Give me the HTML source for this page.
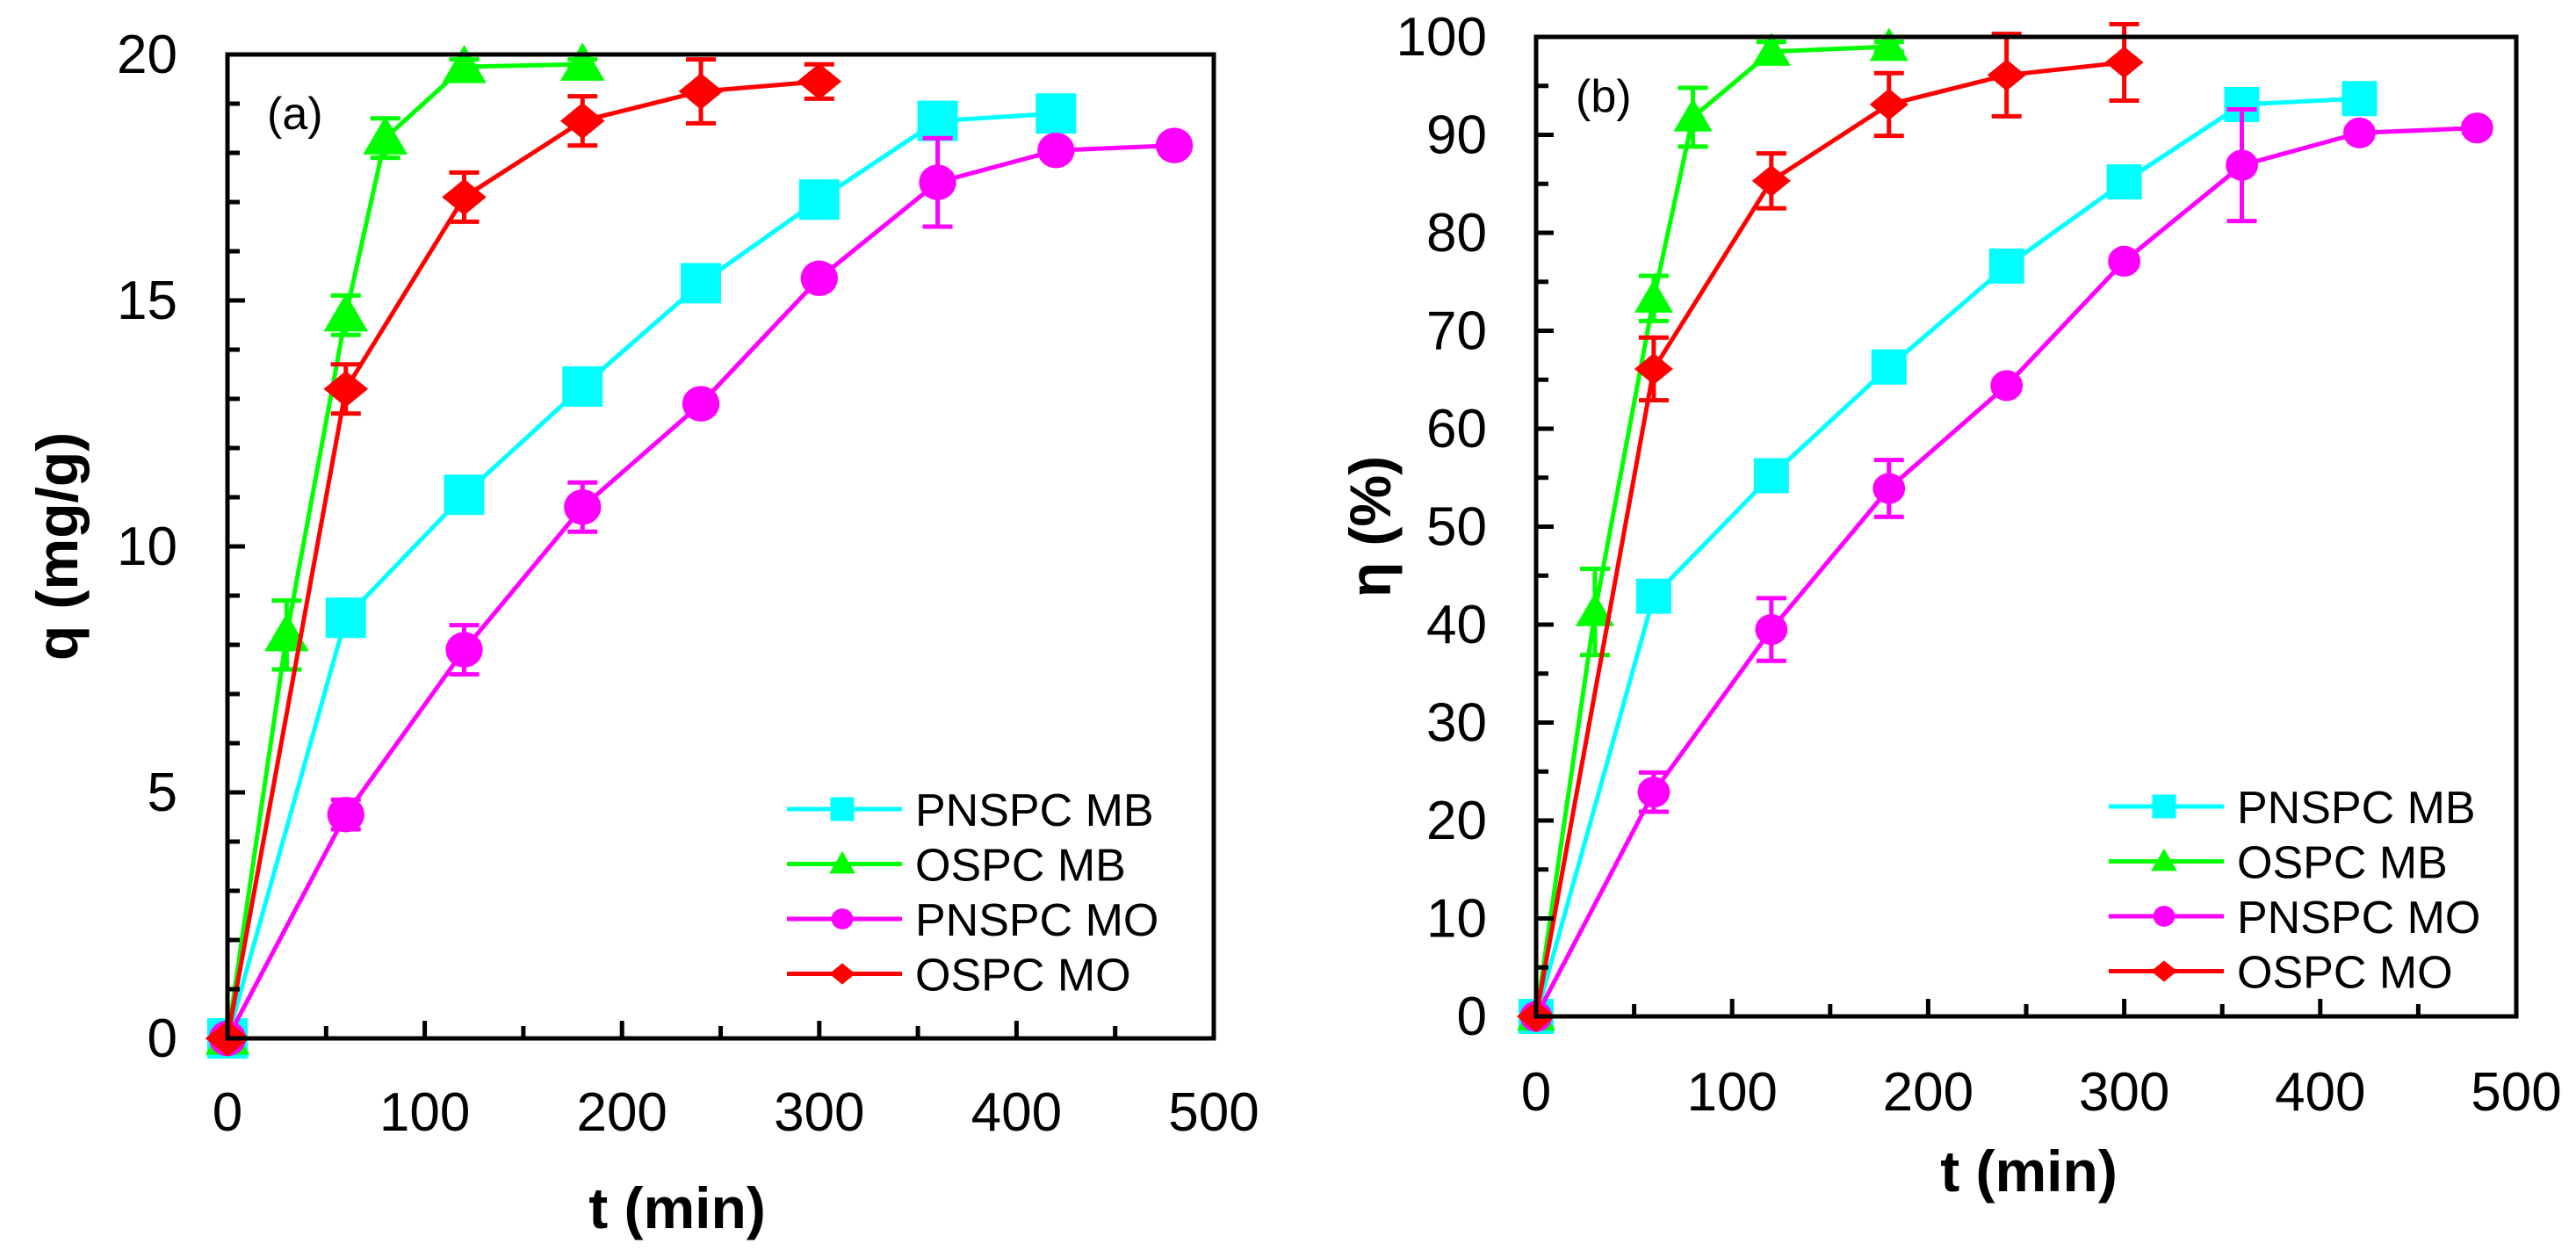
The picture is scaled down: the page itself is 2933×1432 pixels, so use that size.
<!DOCTYPE html>
<html><head><meta charset="utf-8"><style>
html,body{margin:0;padding:0;background:#fff;}
svg{display:block;font-family:"Liberation Sans",Arial,sans-serif;}
</style></head><body>
<svg id="chart" width="2933" height="1432" viewBox="0 0 2933 1432" xmlns="http://www.w3.org/2000/svg"></svg>
<script>
const seriesNames = ["PNSPC MB","OSPC MB","PNSPC MO","OSPC MO"];
const seriesColors = ["#00FFFF","#00FF00","#FF00FF","#FF0000"];
const seriesMarkers = ["square","triangle","circle","diamond"];
const xTicks = [0,100,200,300,400,500];

// Panel (a): q (mg/g)
const aTimes0 = [0,60,120,180,240,300,360,420];
const aVals0 = [0,8.55,11.05,13.25,15.35,17.05,18.65,18.8];
const aErr0 = [0,0,0,0,0,0,0,0];
const aTimes1 = [0,30,60,80,120,180];
const aVals1 = [0,8.2,14.7,18.3,19.75,19.8];
const aErr1 = [0,0.7,0.4,0.4,0.15,0.1];
const aTimes2 = [0,60,120,180,240,300,360,420,480];
const aVals2 = [0,4.55,7.9,10.8,12.9,15.45,17.4,18.05,18.15];
const aErr2 = [0,0.3,0.5,0.5,0.1,0.1,0.9,0.1,0.1];
const aTimes3 = [0,60,120,180,240,300];
const aVals3 = [0,13.2,17.1,18.65,19.25,19.45];
const aErr3 = [0,0.5,0.5,0.5,0.65,0.35];
const aYTicks = [0,5,10,15,20];

// Panel (b): eta (%)
const bTimes0 = [0,60,120,180,240,300,360,420];
const bVals0 = [0,42.9,55.2,66.3,76.6,85.2,93.1,93.7];
const bErr0 = [0,1,0,0,0,0,0,1.5];
const bTimes1 = [0,30,60,80,120,180];
const bVals1 = [0,41.3,73.3,91.8,98.5,99];
const bErr1 = [0,4.4,2.3,3,1,0.5];
const bTimes2 = [0,60,120,180,240,300,360,420,480];
const bVals2 = [0,22.9,39.5,53.9,64.4,77.1,86.9,90.2,90.7];
const bErr2 = [0,2,3.2,2.9,0.5,0.5,5.7,0.5,0.5];
const bTimes3 = [0,60,120,180,240,300];
const bVals3 = [0,66.1,85.3,93.1,96.1,97.4];
const bErr3 = [0,3.2,2.8,3.2,4.2,3.9];
const bYTicks = [0,10,20,30,40,50,60,70,80,90,100];

const NS="http://www.w3.org/2000/svg";
const svg=document.getElementById('chart');
function mk(tag,attrs,parent){const e=document.createElementNS(NS,tag);for(const k in attrs)e.setAttribute(k,attrs[k]);(parent||svg).appendChild(e);return e;}

function marker(g,type,cx,cy,s,color){
  let e;
  if(type==="square"){e=mk('rect',{x:cx-s/2,y:cy-s/2,width:s,height:s,fill:color},g);}
  else if(type==="triangle"){const h=s*0.9;e=mk('polygon',{points:`${cx},${cy-h*0.6} ${cx+s*0.55},${cy+h*0.45} ${cx-s*0.55},${cy+h*0.45}`,fill:color},g);}
  else if(type==="circle"){e=mk('ellipse',{cx:cx,cy:cy,rx:s*0.46,ry:s*0.44,fill:color},g);}
  else {e=mk('polygon',{points:`${cx},${cy-s*0.45} ${cx+s*0.55},${cy} ${cx},${cy+s*0.45} ${cx-s*0.55},${cy}`,fill:color},g);}
  return e;
}

function panel(cfg){
  const {left,right,top,bottom,ymax,ymin,yMinorStep,yTicks,times,vals,errs,label,ytitle,yLabelRight,xLabelBase,xTitleX,xTitleY,yTitleX,legX,legY,msize,name}=cfg;
  const xs=t=>left+(t-0)/(500-0)*(right-left);
  const ys=v=>bottom-(v-ymin)/(ymax-ymin)*(bottom-top);
  const g=mk('g',{});
  
  
  for(let s=0;s<4;s++){
    const sg=mk('g',{},g);
    
    
    const pts=times[s].map((t,i)=>xs(t)+','+ys(vals[s][i])).join(' ');
    const pl=mk('polyline',{points:pts,fill:'none',stroke:seriesColors[s],'stroke-width':5,'stroke-linejoin':'round'},sg);
    
    
    times[s].forEach((t,i)=>{
      const e=errs[s][i];
      if(e>0){
        const x=xs(t),y1=ys(vals[s][i]+e),y2=ys(vals[s][i]-e);
        const eb=mk('path',{d:`M${x},${y1}V${y2}M${x-17},${y1}H${x+17}M${x-17},${y2}H${x+17}`,stroke:seriesColors[s],'stroke-width':5,fill:'none'},sg);
        
        
      }
    });
    times[s].forEach((t,i)=>{
      const m=marker(sg,seriesMarkers[s],xs(t),ys(vals[s][i]),msize,seriesColors[s]);
      
      
    });
  }
  const fr=mk('rect',{x:left,y:top,width:right-left,height:bottom-top,fill:'none',stroke:'#000','stroke-width':5},g);
  
  
  for(let v=ymin;v<=ymax+1e-9;v+=yMinorStep){
    const major=yTicks.some(t=>Math.abs(t-v)<1e-6);
    const y=ys(v);
    mk('line',{x1:left,x2:left+(major?20:14),y1:y,y2:y,stroke:'#000','stroke-width':5},g);
  }
  yTicks.forEach(v=>{
    const t=mk('text',{x:yLabelRight,y:ys(v)+21,'text-anchor':'end','font-size':62},g);
    t.textContent=v;
    
    
  });
  for(let v=0;v<=500;v+=50){
    const major=v%100===0;
    const x=xs(v);
    if(v>0&&v<500)mk('line',{x1:x,x2:x,y1:bottom,y2:bottom-(major?20:14),stroke:'#000','stroke-width':5},g);
  }
  xTicks.forEach(v=>{
    const t=mk('text',{x:xs(v),y:xLabelBase,'text-anchor':'middle','font-size':62},g);
    t.textContent=v;
    
    
  });
  const xt=mk('text',{x:xTitleX,y:xTitleY,'text-anchor':'middle','font-size':66,'font-weight':'bold'},g);
  xt.textContent='t (min)';
  
  
  const cy=(top+bottom)/2;
  const yt=mk('text',{x:yTitleX,y:cy,'text-anchor':'middle','font-size':66,'font-weight':'bold',transform:`rotate(-90 ${yTitleX} ${cy})`},g);
  yt.textContent=ytitle;
  
  
  const pl=mk('text',{x:left+45,y:top+85,'font-size':52},g);
  pl.textContent=label;
  
  
  const lg=mk('g',{},g);
  
  
  for(let s=0;s<4;s++){
    const y=legY+s*62.5;
    const eg=mk('g',{},lg);
    
    
    mk('line',{x1:legX,x2:legX+131,y1:y,y2:y,stroke:seriesColors[s],'stroke-width':5},eg);
    marker(eg,seriesMarkers[s],legX+63,y,27,seriesColors[s]);
    const t=mk('text',{x:legX+146,y:y+19,'font-size':52},eg);
    t.textContent=seriesNames[s];
  }
}

panel({name:'panel-a',left:259,right:1382,top:62,bottom:1182,ymin:0,ymax:20,yMinorStep:1,yTicks:aYTicks,
  times:[aTimes0,aTimes1,aTimes2,aTimes3],vals:[aVals0,aVals1,aVals2,aVals3],errs:[aErr0,aErr1,aErr2,aErr3],
  label:'(a)',ytitle:'q (mg/g)',yLabelRight:202,xLabelBase:1287,xTitleX:771,xTitleY:1398,yTitleX:88,legX:896,legY:921,msize:46});
panel({name:'panel-b',left:1749,right:2865,top:42,bottom:1157,ymin:0,ymax:100,yMinorStep:5,yTicks:bYTicks,
  times:[bTimes0,bTimes1,bTimes2,bTimes3],vals:[bVals0,bVals1,bVals2,bVals3],errs:[bErr0,bErr1,bErr2,bErr3],
  label:'(b)',ytitle:'η (%)',yLabelRight:1693,xLabelBase:1264,xTitleX:2310,xTitleY:1356,yTitleX:1583,legX:2401,legY:918,msize:40});
</script>
</body></html>
